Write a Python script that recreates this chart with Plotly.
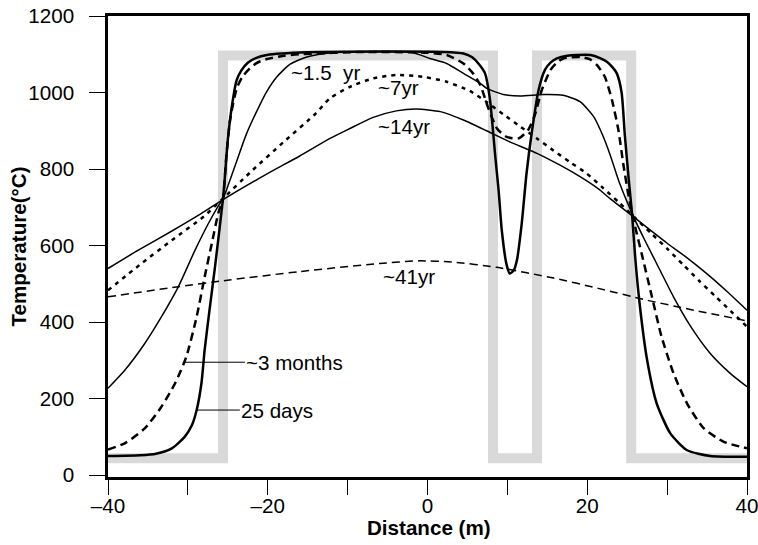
import plotly.graph_objects as go

# ---- data ----
init_x = [-40, -25.6, -25.6, 8.2, 8.2, 13.7, 13.7, 25.5, 25.5, 40]
init_T = [44, 44, 1097, 1097, 44, 44, 1097, 1097, 44, 44]

d25_x = [-40, -36, -34, -32, -30.4, -29.5, -28.9, -28.3, -27.9, -27.3, -26.6, -25.6, -25.4, -25.0, -24.5,
         -23.9, -23.3, -22.5, -21.5, -20.1, -15, -5, 2, 4.5, 5.6, 6.4, 7.2, 7.8, 8.5, 8.9, 9.3, 9.9, 10.3,
         10.8, 11.2, 11.8, 12.4, 13.1, 13.9, 14.7, 15.4, 16.2, 17.5, 18.7, 20.4, 21.6, 22.5, 23.2, 23.7,
         24.3, 24.7, 25.2, 25.6, 26.0, 26.6, 27.5, 28.7, 30.4, 32.5, 35.4, 40]
d25_T = [50, 52, 56, 70, 100, 130, 170, 240, 327, 430, 545, 723, 771, 876, 963,
         1032, 1058, 1078, 1090, 1098, 1105, 1107, 1106, 1102, 1092, 1075, 1050, 985, 830, 745, 640, 550, 527,
         535, 562, 658, 789, 902, 1006, 1059, 1078, 1089, 1096, 1098, 1098, 1090, 1080, 1065, 1050,
         1000, 890, 771, 684, 570, 440, 300, 187, 109, 65, 50, 48]

m3_x = [-40, -37.9, -35.4, -33.3, -31.6, -30.2, -28.9, -27.9, -27.0, -26.2, -25.6, -25.2, -24.7, -23.9, -23.2,
        -22.4, -21.4, -20.2, -18, -16, -8, 0, 2.4, 4.5, 5.7, 6.6, 7.6, 8.7, 9.9, 11.4, 12.6, 13.5, 14.3, 15.4,
        16.2, 17.0, 19.1, 20.3, 21.2, 22.2, 23.1, 23.9, 24.5, 25.2, 26.0, 26.8, 28.1, 29.3, 30.8, 32.5, 34.6,
        37.1, 40]
m3_T = [67, 83, 122, 179, 240, 309, 414, 518, 606, 684, 723, 830, 930, 1010, 1040,
        1060, 1077, 1087, 1096, 1100, 1106, 1104, 1098, 1076, 1050, 1020, 960, 906, 884, 880, 902, 945, 1006, 1059,
        1078, 1089, 1093, 1087, 1072, 1041, 980, 902, 815, 727, 649, 580, 466, 362, 266, 187, 122,
        87, 70]

y15_x = [-40, -37.9, -35.4, -33.3, -31.2, -29.1, -27.5, -26.3, -25.6, -25.0, -23.9, -22.7, -21.4, -20.2, -18.9,
         -17.2, -15.1, -11.8, -6, -1.8, 0.3, 2.4, 4.5, 6.6, 7.4, 9.5, 11.6, 14.5, 17.0, 19.1, 20.8, 22.0, 22.9,
         24.1, 25.8, 27.3, 29.0, 30.8, 32.9, 35.4, 37.9, 40]
y15_T = [227, 274, 344, 414, 492, 588, 655, 700, 723, 755, 820, 890, 950, 1000, 1040,
         1074, 1093, 1104, 1107, 1104, 1089, 1076, 1050, 1024, 1011, 995, 991, 995, 993, 976, 937, 885, 835,
         760, 675, 610, 540, 466, 390, 318, 266, 231]

y7_x = [-40, -36, -32, -28, -25.6, -22, -18, -14, -12.2, -9.7, -6.8, -3.9, -0.5, 2.4, 5.3, 7.4, 9.5, 11.6,
        13.7, 15.8, 17.9, 19.9, 22, 24, 26, 28, 30, 32, 34, 36, 38, 40]
y7_T = [483, 550, 614, 676, 723, 795, 871, 945, 985, 1015, 1037, 1046, 1041, 1028, 1004, 975, 943, 911,
        880, 848, 817, 789, 750, 712, 672, 632, 592, 550, 508, 468, 428, 388]

y14_x = [-40, -36.2, -32.0, -28.3, -25.6, -20.2, -16.0, -12.2, -9.7, -6.8, -3.9, -1.4, 1.6, 4.5, 7.4, 10.3,
         13.7, 16.6, 19.1, 21.4, 22.9, 25.8, 28.7, 30.0, 32.5, 35.0, 37.5, 40]
y14_T = [540, 588, 638, 684, 720, 786, 834, 880, 906, 935, 952, 957, 950, 928, 900, 871,
         841, 810, 780, 748, 722, 675, 627, 606, 568, 526, 480, 431]

y41_x = [-40, -32, -24.8, -16, -6, -1, 3, 8.7, 15.8, 21.4, 27.5, 32.9, 40]
y41_T = [466, 490, 510, 532, 553, 560, 557, 543, 515, 488, 457, 433, 403]

# label texts and positions (data coords)
labels = ["~1.5  yr", "~7yr", "~14yr", "~41yr"]
label_x = [-17.3, -6.5, -6.4, -5.8]
label_T = [1053, 1012, 910, 518]

lead_labels = ["~3 months", "25 days"]
lead_head_x = [-30.4, -28.9]
lead_head_T = [295, 170]
lead_text_x = [-16.6, -18.8]

FONT = "Liberation Sans, Arial, Helvetica, sans-serif"
FS = 20.6

fig = go.Figure()
fig.add_trace(go.Scatter(x=init_x, y=init_T, mode="lines",
                         line=dict(color="#d9d9d9", width=10), hoverinfo="skip"))

curves = [
    (y41_x, y41_T, dict(color="black", width=1.5, dash="8px,5px")),
    (y14_x, y14_T, dict(color="black", width=1.5)),
    (y7_x, y7_T, dict(color="black", width=2.5, dash="4px,5px")),
    (y15_x, y15_T, dict(color="black", width=1.5)),
    (m3_x, m3_T, dict(color="black", width=2.5, dash="8px,5px")),
    (d25_x, d25_T, dict(color="black", width=2.5)),
]
for xs, ts, ln in curves:
    ln = dict(ln, shape="spline", smoothing=0.6)
    fig.add_trace(go.Scatter(x=xs, y=ts, mode="lines", line=ln))

annos = []
for t, x, y in zip(labels, label_x, label_T):
    annos.append(dict(text=t, x=x, y=y, xref="x", yref="y", xanchor="left", yanchor="middle",
                      showarrow=False, font=dict(size=FS, color="black", family=FONT)))
for t, hx, hy, tx in zip(lead_labels, lead_head_x, lead_head_T, lead_text_x):
    annos.append(dict(text=t, x=hx, y=hy, xref="x", yref="y", ax=tx, ay=hy, axref="x", ayref="y",
                      showarrow=True, arrowhead=0, arrowwidth=1, arrowcolor="black", standoff=0,
                      font=dict(size=FS, color="black", family=FONT)))
# axis titles
annos.append(dict(text="<b>Distance (m)</b>", x=0.502, y=-0.1085, xref="paper", yref="paper",
                  xanchor="center", yanchor="middle", showarrow=False,
                  font=dict(size=FS, color="black", family=FONT)))
annos.append(dict(text="<b>Temperature(°C)</b>", x=-0.1408, y=0.5, xref="paper", yref="paper",
                  xanchor="center", yanchor="middle", textangle=-90, showarrow=False,
                  font=dict(size=FS, color="black", family=FONT)))

fig.update_layout(
    width=758, height=545,
    margin=dict(l=108, r=11, t=16, b=68, autoexpand=False),
    paper_bgcolor="white", plot_bgcolor="white",
    showlegend=False,
    font=dict(family=FONT, size=FS, color="black"),
    annotations=annos,
)
fig.update_xaxes(range=[-40, 40], tickvals=[-40, -30, -20, -10, 0, 10, 20, 30, 40],
                 ticktext=["\u201340", "", "\u201320", "", "0", "", "20", "", "40"],
                 ticks="outside", ticklen=15, tickwidth=1.3, tickcolor="black",
                 showline=True, linewidth=2.5, linecolor="black", mirror=True,
                 showgrid=False, zeroline=False, automargin=False, ticklabeloverflow="allow",
                 ticklabelstandoff=-6)
fig.update_yaxes(range=[-5, 1200], tickvals=[0, 200, 400, 600, 800, 1000, 1200],
                 ticks="outside", ticklen=16, tickwidth=1.3, tickcolor="black",
                 showline=True, linewidth=2.5, linecolor="black", mirror=True,
                 showgrid=False, zeroline=False, ticklabelstandoff=11, automargin=False,
                 ticklabeloverflow="allow")

fig.write_html("out.html", config={"displayModeBar": False},
               post_script="document.body.style.margin='0';document.body.style.overflow='hidden';")
